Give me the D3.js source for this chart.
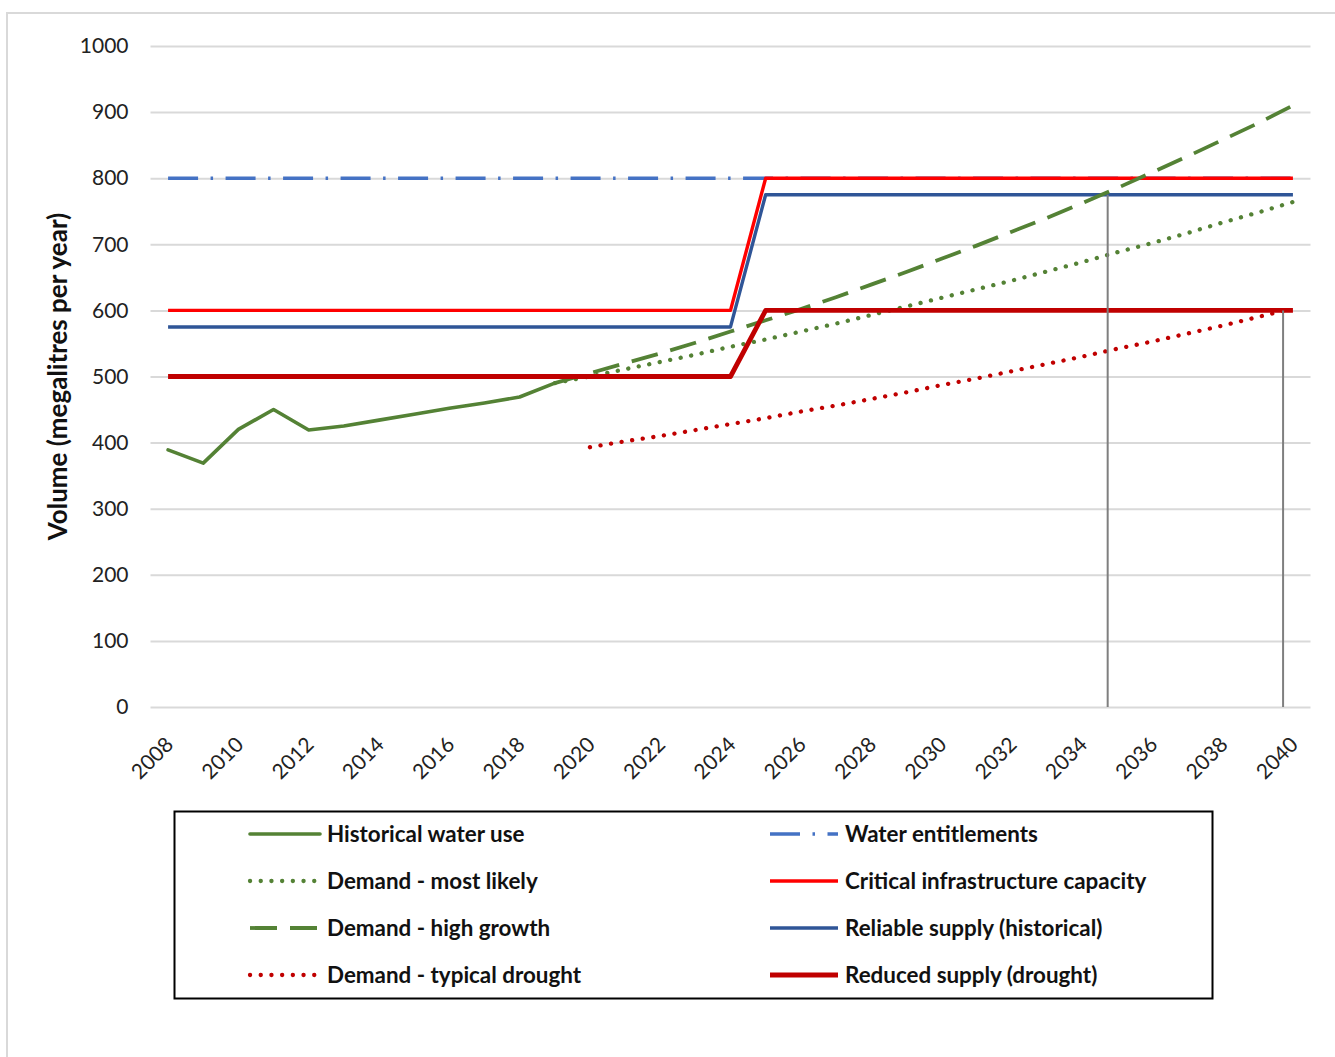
<!DOCTYPE html>
<html>
<head>
<meta charset="utf-8">
<script src="https://cdn.jsdelivr.net/npm/d3@7"></script>
<style>
  body { margin: 0; background: #fff; }
  svg { display: block; font-family: Lato, "Open Sans", sans-serif; }
</style>
</head>
<body>
<svg id="chart" width="1335" height="1057"></svg>
<script>
// ---- Data -------------------------------------------------------------
const years = [2008, 2009, 2010, 2011, 2012, 2013, 2014, 2015, 2016, 2017, 2018,
  2019, 2020, 2021, 2022, 2023, 2024, 2025, 2026, 2027, 2028, 2029, 2030,
  2031, 2032, 2033, 2034, 2035, 2036, 2037, 2038, 2039, 2040];
const tickYears = [2008, 2010, 2012, 2014, 2016, 2018, 2020, 2022, 2024,
  2026, 2028, 2030, 2032, 2034, 2036, 2038, 2040];
const yTicks = [0, 100, 200, 300, 400, 500, 600, 700, 800, 900, 1000];

// Historical water use, 2008-2019 (ML/yr)
const historicalYears = [2008, 2009, 2010, 2011, 2012, 2013, 2014, 2015, 2016, 2017, 2018, 2019];
const historicalUse = [389, 369, 420, 450, 419, 425, 434, 443, 452, 460, 469, 490];

// Demand projections, 2019-2040
const demandYears = [2019, 2020, 2021, 2022, 2023, 2024, 2025, 2026, 2027, 2028, 2029,
  2030, 2031, 2032, 2033, 2034, 2035, 2036, 2037, 2038, 2039, 2040];
const demandMostLikely = [490, 500, 511, 522, 533, 545, 556, 568, 580, 593, 606,
  619, 632, 645, 659, 673, 688, 702, 717, 733, 748, 764];
const demandHighGrowth = [490, 505, 520, 535, 551, 568, 585, 602, 620, 639, 658,
  678, 698, 719, 740, 762, 785, 809, 833, 858, 883, 910];

// Demand in a typical drought, 2020-2040
const droughtYears = [2020, 2021, 2022, 2023, 2024, 2025, 2026, 2027, 2028, 2029,
  2030, 2031, 2032, 2033, 2034, 2035, 2036, 2037, 2038, 2039, 2040];
const demandTypicalDrought = [393, 402, 410, 419, 428, 437, 447, 456, 466, 476,
  487, 497, 508, 519, 530, 542, 553, 565, 577, 590, 603];

// Supply limits as [year, value] steps (upgrade between 2024 and 2025)
const entitlementSteps = [[2008, 800], [2040, 800]];
const criticalCapacitySteps = [[2008, 600], [2024, 600], [2025, 800], [2040, 800]];
const reliableSupplySteps = [[2008, 575], [2024, 575], [2025, 775], [2040, 775]];
const reducedSupplySteps = [[2008, 500], [2024, 500], [2025, 600], [2040, 600]];

// Points where demand meets a supply limit, marked with a drop line to the axis
const shortfallPoints = [[2034.73, 775], [2039.72, 600]];

const legendLabels = [
  "Historical water use", "Demand - most likely", "Demand - high growth", "Demand - typical drought",
  "Water entitlements", "Critical infrastructure capacity", "Reliable supply (historical)", "Reduced supply (drought)"
];

// ---- Layout -------------------------------------------------------------
const svg = d3.select("#chart");
const plotLeft = 150.5, plotRight = 1310.5, plotTop = 46, plotBottom = 707;
const step = (plotRight - plotLeft) / years.length;

const x = d3.scaleLinear()
  .domain([years[0], years[years.length - 1]])
  .range([plotLeft + step / 2, plotRight - step / 2]);
const y = d3.scaleLinear().domain([0, 1000]).range([plotBottom, plotTop]);

// Outer chart frame
svg.append("rect")
  .attr("x", 7).attr("y", 13).attr("width", 1340).attr("height", 1100)
  .attr("fill", "#fff").attr("stroke", "#d9d9d9").attr("stroke-width", 2);

// Y axis with gridlines
const yAxis = svg.append("g")
  .attr("transform", `translate(${plotLeft},0)`)
  .call(d3.axisLeft(y).tickValues(yTicks).tickFormat(d3.format("d"))
    .tickSize(-(plotRight - plotLeft)).tickPadding(22));
yAxis.select(".domain").remove();
yAxis.selectAll(".tick line").attr("stroke", "#d9d9d9").attr("stroke-width", 2);
yAxis.selectAll(".tick text")
  .attr("font-size", 21).attr("fill", "#222").attr("font-family", "Lato, sans-serif");

// X axis labels (rotated)
const xAxis = svg.append("g")
  .attr("transform", `translate(0,${plotBottom})`)
  .call(d3.axisBottom(x).tickValues(tickYears).tickSize(0).tickFormat(d3.format("d")));
xAxis.select(".domain").remove();
xAxis.selectAll(".tick text")
  .attr("x", 0).attr("y", 0).attr("dy", 0)
  .attr("text-anchor", "end")
  .attr("transform", "translate(6,39) rotate(-45)")
  .attr("font-size", 21).attr("fill", "#222").attr("font-family", "Lato, sans-serif");

// Y axis title
svg.append("text")
  .attr("transform", `translate(67,${(plotTop + plotBottom) / 2}) rotate(-90)`)
  .attr("text-anchor", "middle")
  .attr("font-size", 26).attr("font-weight", "bold").attr("fill", "#111")
  .text("Volume (megalitres per year)");

// ---- Series -------------------------------------------------------------
const line = d3.line().x(d => x(d[0])).y(d => y(d[1]));
const zip = (xs, vs) => xs.map((xv, i) => [xv, vs[i]]);

const styles = {
  historical:   { stroke: "#548235", width: 3.6, dash: null, cap: "round" },
  mostLikely:   { stroke: "#548235", width: 4.3, dash: "0.1 10.6", cap: "round" },
  highGrowth:   { stroke: "#548235", width: 3.8, dash: "27 13", cap: "butt" },
  drought:      { stroke: "#C00000", width: 4.3, dash: "0.1 10.6", cap: "round" },
  entitlements: { stroke: "#4472C4", width: 3.5, dash: "30 12.5 2.5 12.5", cap: "butt" },
  critical:     { stroke: "#FF0000", width: 3.4, dash: null, cap: "butt" },
  reliable:     { stroke: "#2F5597", width: 3.4, dash: null, cap: "butt" },
  reduced:      { stroke: "#C00000", width: 4.8, dash: null, cap: "butt" }
};

const series = [
  { key: "entitlements", data: entitlementSteps },
  { key: "critical", data: criticalCapacitySteps },
  { key: "reliable", data: reliableSupplySteps },
  { key: "historical", data: zip(historicalYears, historicalUse) },
  { key: "mostLikely", data: zip(demandYears, demandMostLikely) },
  { key: "highGrowth", data: zip(demandYears, demandHighGrowth) },
  { key: "drought", data: zip(droughtYears, demandTypicalDrought) },
  { key: "reduced", data: reducedSupplySteps }
];

const plot = svg.append("g");
plot.selectAll("path.series")
  .data(series)
  .join("path")
  .attr("class", "series")
  .attr("d", d => line(d.data))
  .attr("fill", "none")
  .attr("stroke", d => styles[d.key].stroke)
  .attr("stroke-width", d => styles[d.key].width)
  .attr("stroke-dasharray", d => styles[d.key].dash)
  .attr("stroke-linecap", d => styles[d.key].cap)
  .attr("stroke-linejoin", "round");

// Drop lines from the crossover points to the axis
plot.selectAll("line.drop")
  .data(shortfallPoints)
  .join("line")
  .attr("class", "drop")
  .attr("x1", d => x(d[0])).attr("x2", d => x(d[0]))
  .attr("y1", d => y(d[1])).attr("y2", y(0))
  .attr("stroke", "#7f7f7f").attr("stroke-width", 2);

// ---- Legend -------------------------------------------------------------
const legend = svg.append("g");
legend.append("rect")
  .attr("x", 174.5).attr("y", 811.5).attr("width", 1038).attr("height", 187)
  .attr("fill", "#fff").attr("stroke", "#000").attr("stroke-width", 2);

const legendKeys = ["historical", "mostLikely", "highGrowth", "drought",
  "entitlements", "critical", "reliable", "reduced"];
const legendItems = legendKeys.map((k, i) => ({ key: k, label: legendLabels[i], col: Math.floor(i / 4), row: i % 4 }));
const colX = [250, 770], colLen = [70, 68], rowY = [834, 881, 928, 975];

const li = legend.selectAll("g.item").data(legendItems).join("g").attr("class", "item");
li.append("line")
  .attr("x1", d => colX[d.col]).attr("x2", d => colX[d.col] + colLen[d.col])
  .attr("y1", d => rowY[d.row]).attr("y2", d => rowY[d.row])
  .attr("stroke", d => styles[d.key].stroke)
  .attr("stroke-width", d => styles[d.key].width)
  .attr("stroke-dasharray", d => styles[d.key].dash)
  .attr("stroke-linecap", d => styles[d.key].cap);
li.append("text")
  .attr("x", d => colX[d.col] + colLen[d.col] + 7)
  .attr("y", d => rowY[d.row])
  .attr("dy", "0.35em")
  .attr("font-size", 22.4).attr("font-weight", "bold").attr("fill", "#111")
  .text(d => d.label);
</script>
</body>
</html>
